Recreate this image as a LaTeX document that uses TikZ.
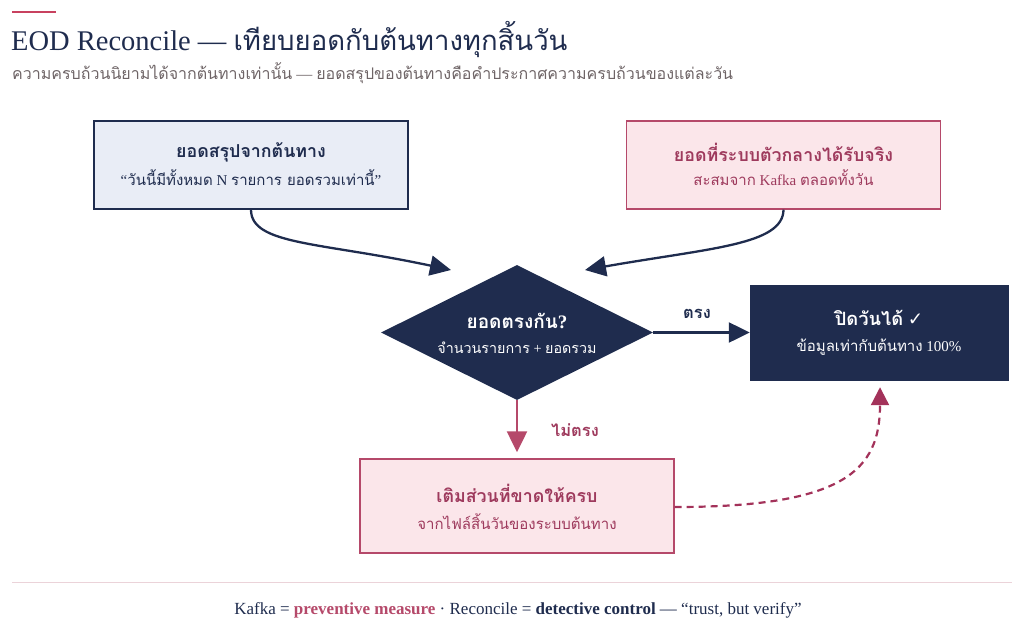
\documentclass[tikz,border=0pt]{standalone}
\usepackage{fontspec}
\setmainfont{Liberation Serif}
\newfontfamily\thaifont[Script=Thai]{Loma}
\newfontfamily\symfont{DejaVu Sans}
\newcommand{\T}[1]{{\thaifont #1}}
\usetikzlibrary{shapes.geometric,arrows.meta}
\definecolor{navy}{HTML}{1F2C4E}
\definecolor{rose}{HTML}{B5496A}
\definecolor{rosedash}{HTML}{A3325A}
\definecolor{rosetext}{HTML}{9E3A5D}
\definecolor{bluefill}{HTML}{E9EDF6}
\definecolor{pinkfill}{HTML}{FBE6EA}
\definecolor{subgray}{HTML}{6E6466}
\definecolor{sepline}{HTML}{EBD3D9}
\definecolor{accent}{HTML}{C8415F}
\tikzset{
  box/.style={draw, line width=1.4pt, minimum width=314pt, minimum height=88pt, inner sep=0pt},
  bluebox/.style={box, draw=navy, fill=bluefill},
  pinkbox/.style={box, draw=rose, fill=pinkfill},
  darkbox/.style={draw=navy, fill=navy, minimum width=258pt, minimum height=95pt, inner sep=0pt},
  ttl/.style={font=\fontsize{17.8}{20}\selectfont\bfseries, inner sep=0pt},
  sub/.style={font=\fontsize{15}{18}\selectfont, inner sep=0pt},
  lbl/.style={font=\fontsize{16.5}{18}\selectfont\bfseries, inner sep=0pt},
  conn/.style={line width=2.3pt, -{Triangle[length=21pt,width=20pt]}},
  navyconn/.style={conn, draw=navy, color=navy},
  roseconn/.style={conn, draw=rose, color=rose},
}
\begin{document}
\begin{tikzpicture}[x=1pt,y=-1pt]
\useasboundingbox (0,0) rectangle (1024,627);
% header
\draw[accent, line width=1.6pt] (12,12) -- (56,12);
\node[anchor=base west, inner sep=0pt, text=navy, font=\fontsize{28.5}{30}\selectfont] (title) at (11,50)
  {EOD Reconcile — {\fontsize{27.5}{30}\selectfont\T{เทียบยอดกับต้นทางทุกสิ้นวัน}}};
\node[anchor=base west, inner sep=0pt, text=subgray, font=\fontsize{16}{18}\selectfont] (subtitle) at (12,79)
  {\T{ความครบถ้วนนิยามได้จากต้นทางเท่านั้น} — \T{ยอดสรุปของต้นทางคือคำประกาศความครบถ้วนของแต่ละวัน}};
% boxes
\node[bluebox] (src) at (251,165) {};
\node[ttl, text=navy] (srcT) at ([yshift=13pt]src.center) {\T{ยอดสรุปจากต้นทาง}};
\node[sub, text=navy] (srcS) at ([yshift=-13pt]src.center) {“\T{วันนี้มีทั้งหมด} N \T{รายการ ยอดรวมเท่านี้}”};

\node[pinkbox] (mid) at (783.5,165) {};
\node[ttl, text=rosetext] (midT) at ([yshift=13pt]mid.center) {\T{ยอดที่ระบบตัวกลางได้รับจริง}};
\node[sub, text=rosetext] (midS) at ([yshift=-13pt]mid.center) {\T{สะสมจาก} Kafka \T{ตลอดทั้งวัน}};

\node[diamond, aspect=2.015, minimum width=272pt, minimum height=135pt, inner sep=0pt, fill=navy] (dec) at (517,332.5) {};
\node[ttl, text=white, font=\fontsize{19}{20}\selectfont\bfseries] (decT) at ([yshift=12pt]dec.center) {\T{ยอดตรงกัน}?};
\node[sub, text=white, font=\fontsize{14.3}{16}\selectfont] (decS) at ([yshift=-15pt]dec.center) {\T{จำนวนรายการ} + \T{ยอดรวม}};

\node[darkbox] (done) at (879,332.5) {};
\node[ttl, text=white, font=\fontsize{18.3}{20}\selectfont\bfseries] (doneT) at ([yshift=15pt]done.center) {\T{ปิดวันได้} {\symfont ✓}};
\node[sub, text=white] (doneS) at ([yshift=-15pt]done.center) {\T{ข้อมูลเท่ากับต้นทาง} 100\%};

\node[pinkbox, minimum height=94pt] (fill) at (517,506) {};
\node[ttl, text=rosetext] (fillT) at ([yshift=13pt]fill.center) {\T{เติมส่วนที่ขาดให้ครบ}};
\node[sub, text=rosetext] (fillS) at ([yshift=-16pt]fill.center) {\T{จากไฟล์สิ้นวันของระบบต้นทาง}};

% connectors
\coordinate (t1) at (451,270);
\coordinate (t2) at (585,270);
\draw[navyconn] (src.south) .. controls (251,245) and (320,242) .. (t1);
\draw[navyconn] (mid.south) .. controls (783,245) and (710,248) .. (t2);
\draw[navyconn] (dec.east) -- (done.west);
\node[lbl, text=navy] (yes) at (697,314) {\T{ตรง}};
\draw[roseconn] (dec.south) -- ([yshift=6pt]fill.north);
\node[lbl, text=rosetext] (no) at (575,430) {\T{ไม่ตรง}};
\draw[rosedash, line width=2.2pt, dash pattern=on 7pt off 5pt, -{Triangle[length=18pt,width=18pt]}]
  (fill.east |- 0,507) .. controls (845,507) and (880,470) .. ([yshift=-7pt]done.south -| 880,0);

% footer
\draw[sepline, line width=1pt] (12,582) -- (1012,582);
\node[anchor=base, inner sep=0pt, text=navy, font=\fontsize{17}{18}\selectfont] (foot) at (518,614)
  {Kafka = \textcolor{rose}{\textbf{preventive measure}} · Reconcile = \textbf{detective control} — “trust, but verify”};
\end{tikzpicture}
\end{document}
